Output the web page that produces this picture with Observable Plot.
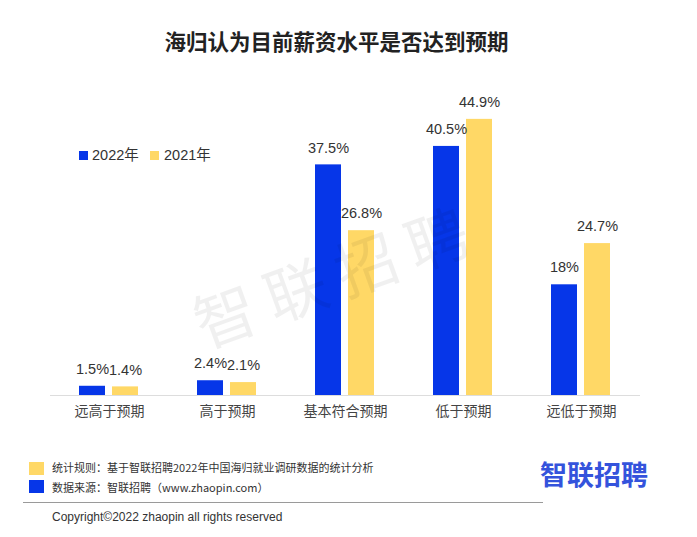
<!DOCTYPE html>
<html>
<head>
<meta charset="utf-8">
<script src="https://cdn.jsdelivr.net/npm/d3@7"></script>
<script src="https://cdn.jsdelivr.net/npm/@observablehq/plot@0.6"></script>
<style>
  html, body { margin: 0; padding: 0; background: #fff; }
  #wrap { position: relative; width: 697px; height: 537px; overflow: hidden;
          font-family: "Liberation Sans", "Noto Sans CJK SC", sans-serif; color: #333; }
  #chart { position: absolute; left: 0; top: 0; }
  .abs { position: absolute; white-space: nowrap; }
  #title { left: 0; width: 673px; top: 28px; text-align: center; font-size: 21.5px; font-weight: bold;
           color: #222; font-family: "Noto Sans CJK SC", sans-serif; line-height: 26px; }
  .sw { position: absolute; }
  .leg { font-size: 14.5px; color: #333; line-height: 18px; }
  .foot { font-size: 11px; color: #333; line-height: 14px; font-family: "Noto Sans CJK SC", sans-serif; }
  #wm { left: 336px; top: 272px; transform: translate(-50%, -50%) rotate(-20deg); font-size: 62px;
        letter-spacing: 13px; color: rgba(0,0,0,0.06); font-family: "Noto Sans CJK SC", sans-serif;
        font-weight: 400; }
  #logo { left: 540px; top: 459px; font-size: 27px; font-weight: bold; color: #3453dc;
          font-family: "Noto Sans CJK SC", sans-serif; letter-spacing: 0px; line-height: 30px; }
</style>
</head>
<body>
<div id="wrap">
  <div id="chart"></div>
  <div id="title" class="abs">海归认为目前薪资水平是否达到预期</div>
  <div id="legend"></div>
  <div id="wm" class="abs">智联招聘</div>
  <div class="sw" style="left:29px;top:462px;width:15px;height:13px;background:#ffd866"></div>
  <div class="abs foot" style="left:52px;top:460px">统计规则：基于智联招聘2022年中国海归就业调研数据的统计分析</div>
  <div class="sw" style="left:29px;top:480px;width:15px;height:13px;background:#0636e8"></div>
  <div class="abs foot" style="left:52px;top:480px">数据来源：智联招聘（www.zhaopin.com）</div>
  <div class="sw" style="left:23px;top:502px;width:520px;height:1px;background:#9a9a9a"></div>
  <div class="abs" style="left:52px;top:510px;font-size:12px;color:#333;line-height:14px">Copyright©2022 zhaopin all rights reserved</div>
  <div id="logo" class="abs">智联招聘</div>
</div>
<script>
const categories = ["远高于预期", "高于预期", "基本符合预期", "低于预期", "远低于预期"];
const years = ["2022年", "2021年"];
const values2022 = [1.5, 2.4, 37.5, 40.5, 18];
const values2021 = [1.4, 2.1, 26.8, 44.9, 24.7];
const colors = ["#0636e8", "#ffd866"];

const data = [];
categories.forEach((c, i) => {
  data.push({category: c, year: years[0], value: values2022[i]});
  data.push({category: c, year: years[1], value: values2021[i]});
});

const chart = Plot.plot({
  width: 697,
  height: 537,
  marginTop: 87.5,
  marginBottom: 142,
  marginLeft: 48,
  marginRight: 55,
  style: {fontFamily: '"Liberation Sans", "Noto Sans CJK SC", sans-serif', background: "transparent"},
  fx: {domain: categories, padding: 0, label: null, axis: "bottom", tickSize: 0, tickPadding: 11},
  x: {domain: years, paddingInner: 0.206, paddingOuter: 0.85, axis: null},
  y: {domain: [0, 50], axis: null},
  color: {domain: years, range: colors},
  marks: [
    Plot.ruleY([0], {stroke: "#dddddd", strokeWidth: 1}),
    Plot.barY(data, {fx: "category", x: "year", y: "value", fill: "year"}),
    Plot.text(data, {fx: "category", x: "year", y: "value", text: d => `${d.value}%`,
      dy: -17, fontSize: 14.5, fill: "#333", lineAnchor: "middle"})
  ]
});
document.getElementById("chart").appendChild(chart);
chart.querySelectorAll("g[aria-label='fx-axis tick label'] text, g[aria-label='fx-axis'] text").forEach(t => {
  t.setAttribute("font-size", "14px");
  t.style.fontSize = "14px";
  t.style.fill = "#444";
  t.style.fontFamily = '"Noto Sans CJK SC", sans-serif';
});

const legend = document.getElementById("legend");
const legPos = [{sx: 79, tx: 92}, {sx: 150, tx: 164}];
years.forEach((y, i) => {
  const sw = document.createElement("div");
  sw.className = "sw";
  Object.assign(sw.style, {left: legPos[i].sx + "px", top: "151px", width: "9px", height: "9px", background: colors[i]});
  legend.appendChild(sw);
  const tx = document.createElement("div");
  tx.className = "abs leg";
  Object.assign(tx.style, {left: legPos[i].tx + "px", top: "146px"});
  tx.textContent = y;
  legend.appendChild(tx);
});
</script>
</body>
</html>
